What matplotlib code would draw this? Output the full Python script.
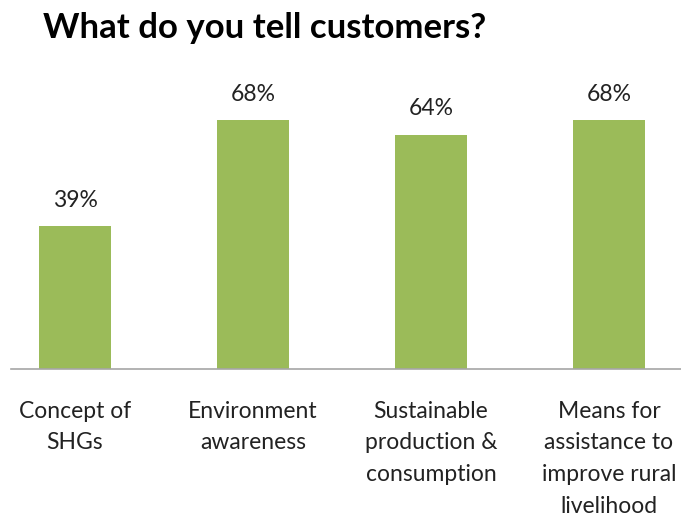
import matplotlib.pyplot as plt
import numpy as np

categories = ["Concept of\nSHGs", "Environment\nawareness",
              "Sustainable\nproduction &\nconsumption",
              "Means for\nassistance to\nimprove rural\nlivelihood"]
values = [39, 68, 64, 68]

plt.rcParams['font.family'] = ['Lato', 'DejaVu Sans']

fig = plt.figure(figsize=(6.81, 5.2), dpi=100)
# axes: baseline at y=369px, left edge at x=11px, running off the right side
ax = fig.add_axes([11 / 681, 1 - 369 / 520, 1 - 11 / 681, 293 / 520])

x = np.arange(len(values))
ax.bar(x, values, width=0.4, color='#9bbb59')

# one category is 178px wide, first bar centre sits at x=75px
ax.set_xlim(-(75 - 11) / 178, (681 - 75) / 178)
ax.set_ylim(0, 80)

for xi, v in zip(x, values):
    ax.annotate(f"{v}%", (xi, v), xytext=(0, 18.5), textcoords='offset points',
                ha='center', va='center', fontsize=16.5, color='#222222')

ax.set_xticks(x, categories)
ax.tick_params(axis='x', length=0, pad=23, labelsize=16.5, labelcolor='#222222')
for lbl in ax.get_xticklabels():
    lbl.set_linespacing(1.62)
ax.set_yticks([])

for side in ['top', 'right', 'left']:
    ax.spines[side].set_visible(False)
ax.spines['bottom'].set_color('#a6a6a6')
ax.spines['bottom'].set_linewidth(1.2)

fig.text(43 / 681, 1 - 28 / 520, "What do you tell customers?", ha='left', va='center',
         fontsize=25, fontweight='bold', color='black')

fig.savefig('out.png', dpi=100)
